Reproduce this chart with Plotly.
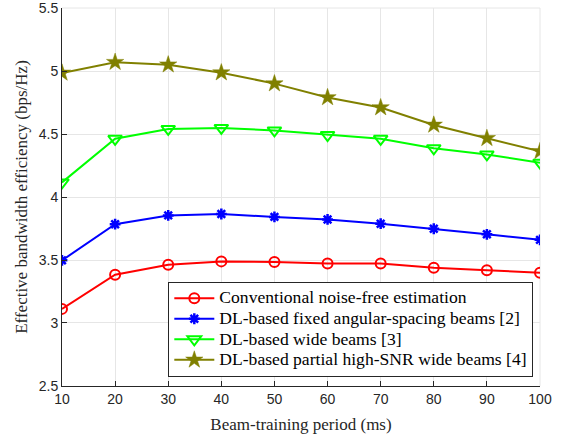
import plotly.graph_objects as go

periods = [10, 20, 30, 40, 50, 60, 70, 80, 90, 100]
conventional = [3.112, 3.383, 3.463, 3.489, 3.484, 3.473, 3.473, 3.439, 3.418, 3.399]
dl_fixed = [3.497, 3.784, 3.854, 3.865, 3.842, 3.822, 3.788, 3.748, 3.704, 3.660]
dl_wide = [4.116, 4.462, 4.540, 4.548, 4.528, 4.492, 4.462, 4.387, 4.338, 4.272]
dl_partial = [4.985, 5.070, 5.050, 4.987, 4.900, 4.790, 4.710, 4.572, 4.466, 4.362]

y_ticks = [2.5, 3, 3.5, 4, 4.5, 5, 5.5]
y_labels = ["2.5", "3", "3.5", "4", "4.5", "5", "5.5"]

names = ["Conventional noise-free estimation",
         "DL-based fixed angular-spacing beams [2]",
         "DL-based wide beams [3]",
         "DL-based partial high-SNR wide beams [4]"]


def legend_label(s):
    return '<span style="font-size:17.6px">' + s + '</span>'


fig = go.Figure()
fig.add_trace(go.Scatter(x=periods, y=conventional, name=legend_label(names[0]), mode="lines+markers",
                         line=dict(color="#ff0000", width=2),
                         marker=dict(symbol="circle-open", size=10, color="#ff0000", line=dict(width=2))))
fig.add_trace(go.Scatter(x=periods, y=dl_fixed, name=legend_label(names[1]), mode="lines+markers",
                         line=dict(color="#0000ff", width=2),
                         marker=dict(symbol="asterisk-open", size=9, color="#0000ff", line=dict(width=2.5, color="#0000ff"))))
fig.add_trace(go.Scatter(x=periods, y=dl_wide, name=legend_label(names[2]), mode="lines+markers",
                         line=dict(color="#00ff00", width=2),
                         marker=dict(symbol="triangle-down-open", size=12, color="#00ff00", line=dict(width=2))))
fig.add_trace(go.Scatter(x=periods, y=dl_partial, name=legend_label(names[3]), mode="lines+markers",
                         line=dict(color="#808000", width=2),
                         marker=dict(symbol="star", size=13, color="#808000", line=dict(width=0.5, color="#808000"))))

axis_common = dict(showline=True, linecolor="#262626", linewidth=1, ticks="inside", ticklen=5,
                   tickcolor="#262626", showgrid=True, gridcolor="#e6e6e6", gridwidth=1,
                   zeroline=False, mirror=False, automargin=False, ticklabeloverflow="allow",
                   tickfont=dict(family="Liberation Sans, Arial", size=14, color="#262626"))

fig.update_xaxes(range=[10, 100], tickvals=periods,
                 title=dict(text="Beam-training period (ms)", standoff=12,
                            font=dict(family="Liberation Serif, Times New Roman", size=17, color="#262626")),
                 **axis_common)
fig.update_yaxes(range=[2.4999, 5.5001], tickvals=y_ticks, ticktext=y_labels,
                 title=dict(text="Effective bandwidth efficiency (bps/Hz)", standoff=6,
                            font=dict(family="Liberation Serif, Times New Roman", size=17, color="#262626")),
                 **axis_common)

fig.add_shape(type="line", xref="paper", yref="paper", x0=0, x1=1, y0=1, y1=1,
              line=dict(color="#e6e6e6", width=1), layer="below")
fig.add_shape(type="line", xref="paper", yref="paper", x0=1, x1=1, y0=0, y1=1,
              line=dict(color="#e6e6e6", width=1), layer="below")

fig.update_layout(
    width=565, height=439,
    margin=dict(l=62, r=25, t=8, b=53),
    paper_bgcolor="white", plot_bgcolor="white",
    showlegend=True,
    legend=dict(x=0.986, y=0.024, xanchor="right", yanchor="bottom",
                bgcolor="white", bordercolor="#262626", borderwidth=1,
                font=dict(family="Liberation Serif, Times New Roman", size=13.5, color="#000000"),
                tracegroupgap=0, itemwidth=40),
)

fig.write_html("out.html", config={"displayModeBar": False},
               post_script="document.body.style.margin='0';document.body.style.padding='0';")
